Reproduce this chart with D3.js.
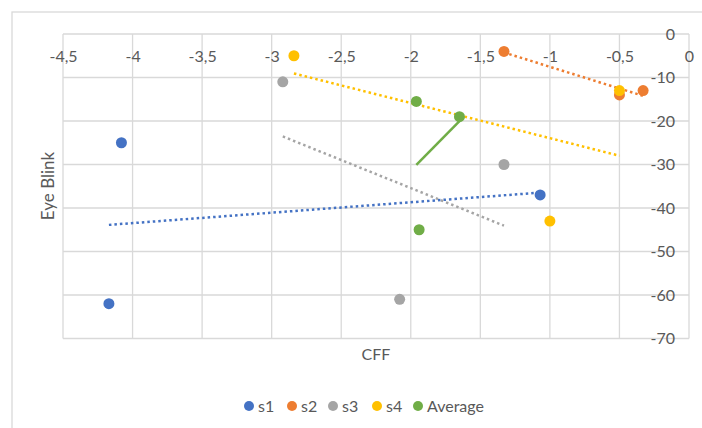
<!DOCTYPE html>
<html><head><meta charset="utf-8">
<script src="https://cdn.jsdelivr.net/npm/d3@7"></script>
<style>body{margin:0;background:#fff}svg{display:block}text{font-family:Lato,"Open Sans",sans-serif;fill:#595959}</style>
</head><body><svg id="c" width="702" height="428"></svg>
<script>
const seriesNames = ["s1","s2","s3","s4","Average"];
const colors = ["#4472C4","#ED7D31","#A5A5A5","#FFC000","#70AD47"];
const s1X = [-4.08,-4.17,-1.07], s1Y = [-25,-62,-37];
const s2X = [-1.33,-0.5,-0.33], s2Y = [-4,-14,-13];
const s3X = [-2.92,-1.33,-2.08], s3Y = [-11,-30,-61];
const s4X = [-2.84,-0.5,-1.0], s4Y = [-5,-13,-43];
const avgX = [-1.96,-1.65,-1.94], avgY = [-15.5,-19,-45];
const xTicks = [-4.5,-4,-3.5,-3,-2.5,-2,-1.5,-1,-0.5,0];
const yTicks = [0,-10,-20,-30,-40,-50,-60,-70];

const allX = [s1X,s2X,s3X,s4X,avgX], allY = [s1Y,s2Y,s3Y,s4Y,avgY];
const svg = d3.select("#c");
const L=63,R=689,T=34,B=338.5;
const x = d3.scaleLinear().domain([-4.5,0]).range([L,R]);
const y = d3.scaleLinear().domain([0,-70]).range([T,B]);
const fmt = v => String(v).replace(".",",");
const FS = 16;

svg.append("rect").attr("x",12).attr("y",12).attr("width",700).attr("height",430)
  .attr("fill","none").attr("stroke","#d9d9d9").attr("stroke-width",1.3);

const grid = svg.append("g").attr("stroke","#d9d9d9").attr("stroke-width",1.3);
grid.selectAll("line.v").data(xTicks).join("line").attr("x1",d=>x(d)).attr("x2",d=>x(d)).attr("y1",T).attr("y2",B);
grid.selectAll("line.h").data(yTicks).join("line").attr("y1",d=>y(d)).attr("y2",d=>y(d)).attr("x1",L).attr("x2",R);

const xAxis = svg.append("g").attr("transform",`translate(0,${T})`)
  .call(d3.axisBottom(x).tickValues(xTicks).tickFormat(fmt).tickSize(0).tickPadding(17));
xAxis.select(".domain").remove();
xAxis.selectAll("text").attr("font-size",FS).attr("fill","#595959").attr("font-family","Lato");
const yAxis = svg.append("g").attr("transform",`translate(${R-14},0)`)
  .call(d3.axisLeft(y).tickValues(yTicks).tickFormat(fmt).tickSize(0).tickPadding(0));
yAxis.select(".domain").remove();
yAxis.selectAll("text").attr("font-size",FS).attr("fill","#595959").attr("font-family","Lato");

svg.append("text").attr("x",376).attr("y",360).attr("text-anchor","middle").attr("font-size",FS).text("CFF");
svg.append("text").attr("transform","translate(54,186) rotate(-90)").attr("text-anchor","middle").attr("font-size",17).text("Eye Blink");

function fit(xs,ys){const n=xs.length,mx=d3.mean(xs),my=d3.mean(ys);
  let sxy=0,sxx=0;for(let i=0;i<n;i++){sxy+=(xs[i]-mx)*(ys[i]-my);sxx+=(xs[i]-mx)**2;}
  const b=sxy/sxx,a=my-b*mx;const x0=d3.min(xs),x1=d3.max(xs);return [[x0,a+b*x0],[x1,a+b*x1]];}
const line = d3.line().x(d=>x(d[0])).y(d=>y(d[1]));
allX.forEach((xs,i)=>{
  svg.append("path").attr("d",line(fit(xs,allY[i]))).attr("fill","none").attr("stroke",colors[i])
    .attr("stroke-width",2.5).attr("stroke-dasharray",i===4?null:"2.5,3");
});
allX.forEach((xs,i)=>{
  svg.append("g").selectAll("circle").data(xs.map((v,j)=>[v,allY[i][j]])).join("circle")
    .attr("cx",d=>x(d[0])).attr("cy",d=>y(d[1])).attr("r",5.5).attr("fill",colors[i]);
});

const legX = [249,292,333,377,418];
const lg = svg.append("g");
seriesNames.forEach((nm,i)=>{
  lg.append("circle").attr("cx",legX[i]).attr("cy",406).attr("r",5).attr("fill",colors[i]);
  lg.append("text").attr("x",legX[i]+9).attr("y",411.5).attr("font-size",FS).text(nm);
});
</script></body></html>
